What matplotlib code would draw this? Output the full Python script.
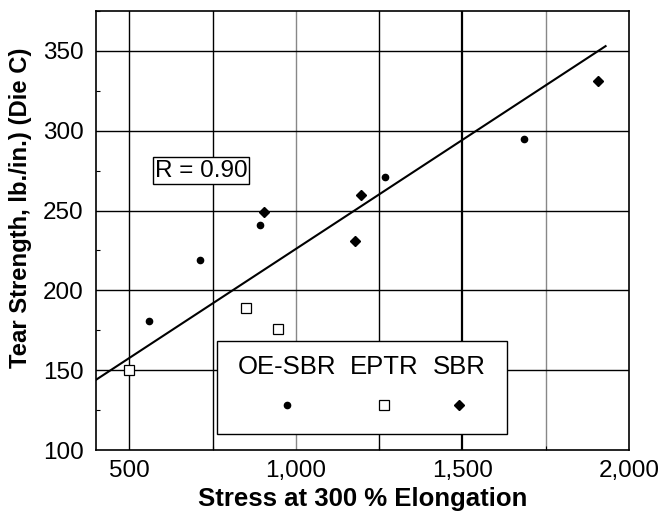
import matplotlib
matplotlib.use("Agg")
import matplotlib.pyplot as plt
from matplotlib.patches import Rectangle
from matplotlib.ticker import FuncFormatter, MultipleLocator

plt.rcParams['font.family'] = ['Liberation Sans', 'DejaVu Sans']

# --- data ---
oe_sbr_x = [560, 712, 893, 1268, 1684]
oe_sbr_y = [181, 219, 241, 271, 295]
eptr_x = [500, 850, 946]
eptr_y = [150, 189, 176]
sbr_x = [903, 1178, 1195, 1908]
sbr_y = [249, 231, 260, 331]
fit_x = [400, 1930]
fit_y = [144, 353]
x_ticks = [500, 1000, 1500, 2000]
y_ticks = [100, 150, 200, 250, 300, 350]
x_grid = [500, 750, 1000, 1250, 1500, 1750]
x_grid_colors = ['black', 'black', '#888888', 'black', 'black', '#888888']
x_grid_widths = [1.0, 1.0, 1.0, 1.0, 1.6, 1.0]
legend_labels = ['OE-SBR', 'EPTR', 'SBR']
r_text = 'R = 0.90'

fig = plt.figure(figsize=(6.62, 5.12), dpi=100)
ax = fig.add_axes([0.145, 0.121, 0.805, 0.8575])
ax.set_xlim(400, 2000)
ax.set_ylim(100, 375)

for v, c, w in zip(x_grid, x_grid_colors, x_grid_widths):
    ax.axvline(v, color=c, lw=w, zorder=1)
for v in y_ticks[1:]:
    ax.axhline(v, color='black', lw=1.0, zorder=1)

ax.plot(fit_x, fit_y, color='black', lw=1.5, zorder=3)
ax.plot(oe_sbr_x, oe_sbr_y, 'o', color='black', ms=4.5, zorder=4, clip_on=False)
ax.plot(eptr_x, eptr_y, 's', mfc='white', mec='black', mew=0.9, ms=7.5, zorder=4, clip_on=False)
ax.plot(sbr_x, sbr_y, 'D', color='black', ms=5.5, zorder=4, clip_on=False)

ax.set_xticks(x_ticks)
ax.set_yticks(y_ticks)
ax.xaxis.set_major_formatter(FuncFormatter(lambda v, p: f"{int(v):,}"))
ax.xaxis.set_minor_locator(MultipleLocator(250))
ax.yaxis.set_minor_locator(MultipleLocator(25))
ax.tick_params(which='major', length=0, labelsize=17.5, pad=7)
ax.tick_params(axis='y', which='major', pad=9)
ax.tick_params(which='minor', direction='in', length=3, width=0.8)
for s in ax.spines.values():
    s.set_linewidth(1.2)
    s.set_zorder(5)

ax.set_xlabel('Stress at 300 % Elongation', fontsize=18.5, fontweight='bold')
ax.xaxis.set_label_coords(0.5, -0.085)
ax.set_ylabel('Tear Strength, lb./in.) (Die C)', fontsize=17.2, fontweight='bold')
ax.yaxis.set_label_coords(-0.120, 0.553)

# R annotation box
ax.add_patch(Rectangle((0.1063, 0.6055), 0.1813, 0.0622, transform=ax.transAxes,
                       facecolor='white', edgecolor='black', lw=1.0, zorder=6))
ax.text(0.197, 0.6366, r_text, transform=ax.transAxes, ha='center', va='center',
        fontsize=17.5, zorder=7)

# Custom legend (labels above markers)
ax.add_patch(Rectangle((0.2277, 0.0364), 0.5433, 0.2118, transform=ax.transAxes,
                       facecolor='white', edgecolor='black', lw=1.0, zorder=6))
lx = [0.3592, 0.5407, 0.6820]
for x, lab in zip(lx, legend_labels):
    ax.text(x, 0.189, lab, transform=ax.transAxes, ha='center', va='center',
            fontsize=18.5, zorder=7)
ax.plot([lx[0]], [0.1025], 'o', color='black', ms=4.5, transform=ax.transAxes, zorder=7)
ax.plot([lx[1]], [0.1025], 's', mfc='white', mec='black', mew=0.9, ms=7,
        transform=ax.transAxes, zorder=7)
ax.plot([lx[2]], [0.1025], 'D', color='black', ms=5.5, transform=ax.transAxes, zorder=7)

fig.savefig('out.png', dpi=100)
